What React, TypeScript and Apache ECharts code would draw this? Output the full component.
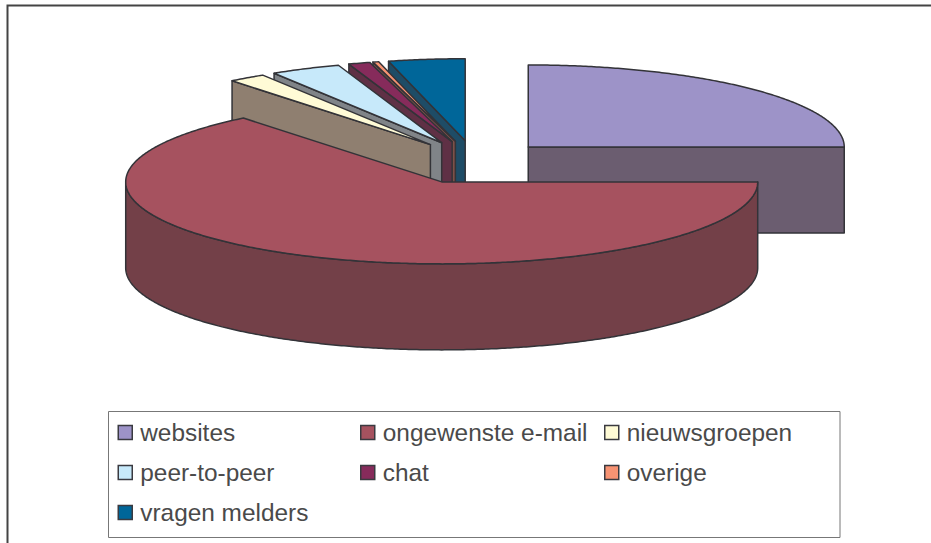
import React, { useEffect, useRef } from "react";
import * as echarts from "echarts";

const categories = ["websites", "ongewenste e-mail", "nieuwsgroepen", "peer-to-peer", "chat", "overige", "vragen melders"];
const values = [25, 64.2, 1.9, 3.6, 1.1, 0.3, 3.9];
const topColors = ["#9D93C8", "#A6525F", "#FFFBD6", "#C7E9FA", "#862B5B", "#F79373", "#006699"];
const wallColors = ["#6B5D70", "#734048", "#8F7F70", "#808488", "#5F3045", "#7E5048", "#1E4C66"];
const drawOrder = [6, 5, 4, 3, 2, 0, 1];
const legendColumns = [
  { left: 117.5, names: ["websites", "peer-to-peer", "vragen melders"] },
  { left: 360, names: ["ongewenste e-mail", "chat"] },
  { left: 604, names: ["nieuwsgroepen", "overige"] },
];

const RX = 316;
const RY = 82;
const DEPTH = 86;
const CX = 474.5;
const CY = 162.3;
const EX = 76;
const EY = 21.7;
const EDGE = "#333338";

const total = values.reduce((a, b) => a + b, 0);
const rad = (d: number) => (d * Math.PI) / 180;

function sliceAngles(i: number) {
  let sum = 0;
  for (let k = 0; k < i; k++) sum += values[k];
  return [(sum / total) * 360, ((sum + values[i]) / total) * 360];
}

function renderSlice(i: number) {
  const [a, b] = sliceAngles(i);
  const mid = (a + b) / 2;
  const tx = CX + EX * Math.sin(rad(mid));
  const ty = CY - EY * Math.cos(rad(mid));
  const pt = (deg: number, dy = 0): number[] => [
    tx + RX * Math.sin(rad(deg)),
    ty - RY * Math.cos(rad(deg)) + dy,
  ];
  const arc = (from: number, to: number, dy = 0) => {
    const n = Math.max(2, Math.ceil(Math.abs(to - from) / 0.5));
    const out: number[][] = [];
    for (let k = 0; k <= n; k++) out.push(pt(from + ((to - from) * k) / n, dy));
    return out;
  };
  const poly = (points: number[][], fill: string) => ({
    type: "polygon",
    shape: { points },
    style: { fill, stroke: EDGE, lineWidth: 1.5, lineJoin: "round" },
  });
  const children: any[] = [];
  const tip = [tx, ty];
  const tipLow = [tx, ty + DEPTH];
  if (a > 180 && a < 360) {
    children.push(poly([tip, pt(a), pt(a, DEPTH), tipLow], wallColors[i]));
  }
  if (b > 0 && b < 180) {
    children.push(poly([tip, pt(b), pt(b, DEPTH), tipLow], wallColors[i]));
  }
  const f = Math.max(a, 90);
  const t = Math.min(b, 270);
  if (t > f) {
    children.push(poly([...arc(f, t), ...arc(t, f, DEPTH)], wallColors[i]));
  }
  children.push(poly([tip, ...arc(a, b)], topColors[i]));
  return { type: "group", children };
}

export default function App() {
  const ref = useRef<HTMLDivElement>(null);
  useEffect(() => {
    const chart = echarts.init(ref.current!, undefined, { renderer: "svg" });
    chart.setOption({
      animation: false,
      backgroundColor: "#fff",
      legend: legendColumns.map((c) => ({
        left: c.left,
        top: 420.5,
        orient: "vertical",
        icon: "rect",
        itemWidth: 14,
        itemHeight: 14,
        itemGap: 16,
        padding: 0,
        selectedMode: false,
        textStyle: {
          fontFamily: "Liberation Sans",
          fontSize: 24.4,
          color: "#4a4a4a",
          lineHeight: 24,
          padding: [0, 0, 0, 3],
        },
        data: c.names.map((name) => ({
          name,
          itemStyle: {
            color: topColors[categories.indexOf(name)],
            borderColor: "#3a3a40",
            borderWidth: 1.5,
          },
        })),
      })),
      graphic: [
        {
          type: "polyline",
          shape: { points: [[7.5, 543], [7.5, 5.5], [931, 5.5]] },
          style: { fill: "none", stroke: "#444", lineWidth: 2 },
        },
        {
          type: "rect",
          z: -1,
          shape: { x: 108.5, y: 411.5, width: 731.5, height: 126 },
          style: { fill: "#fff", stroke: "#777", lineWidth: 1 },
        },
      ],
      series: drawOrder.map((i, order) => ({
        type: "custom",
        name: categories[i],
        coordinateSystem: "none",
        z: 2 + order,
        silent: true,
        itemStyle: { color: topColors[i] },
        data: [values[i]],
        renderItem: () => renderSlice(i),
      })),
    });
    return () => chart.dispose();
  }, []);
  return (
    <div
      ref={ref}
      style={{ position: "fixed", left: 0, top: 0, width: 931, height: 543 }}
    />
  );
}
